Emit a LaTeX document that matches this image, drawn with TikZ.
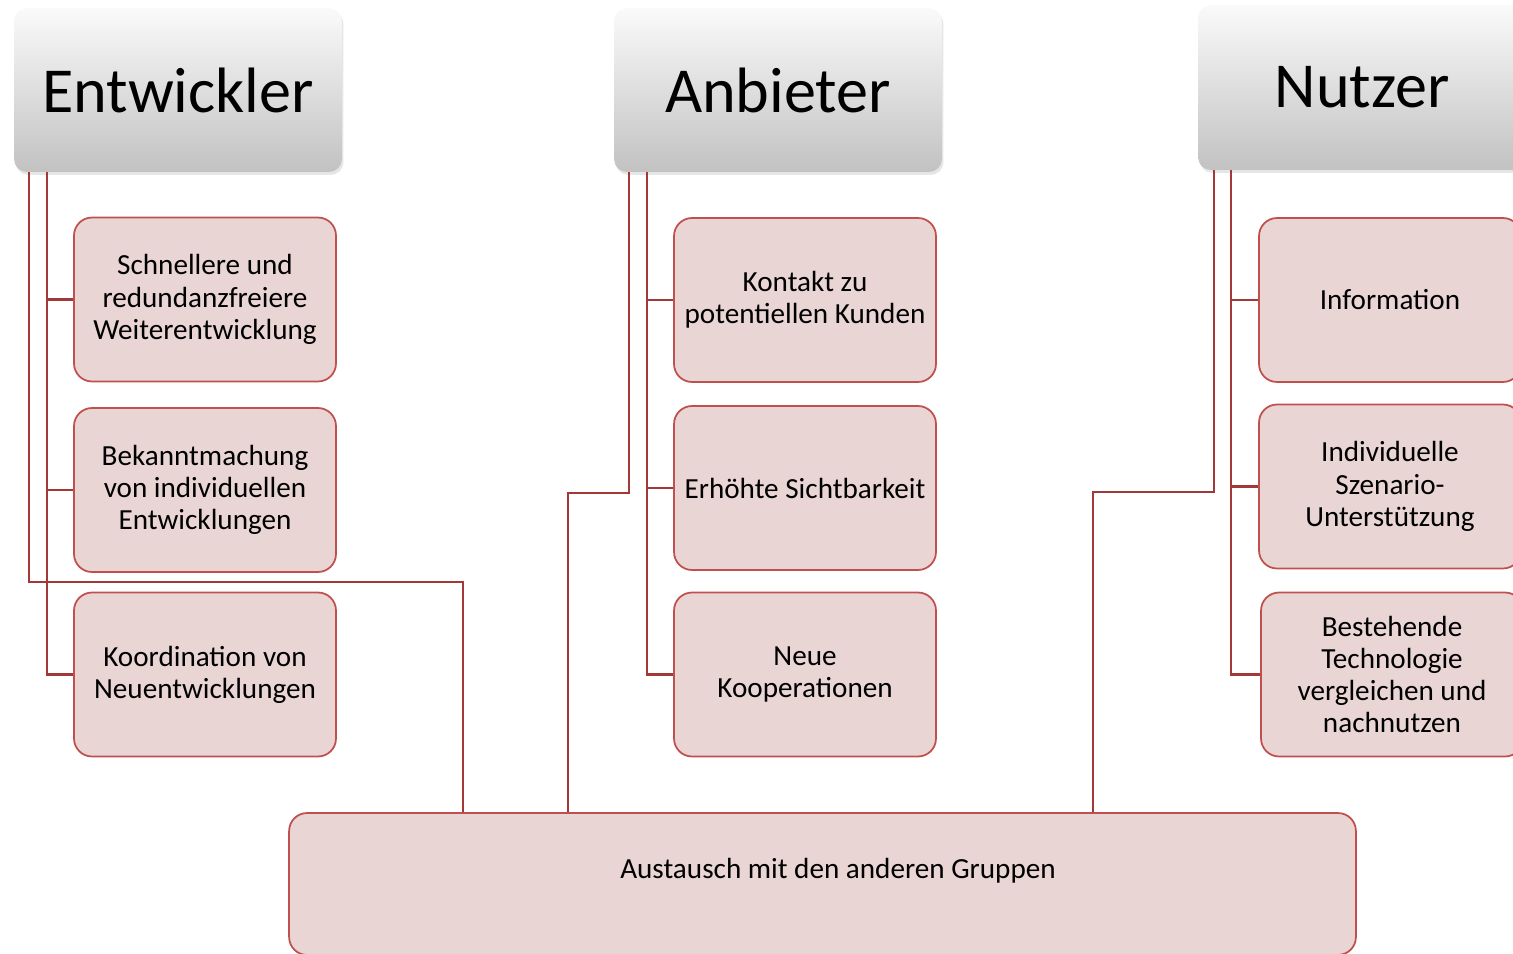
\documentclass[tikz,border=0pt]{standalone}
\usepackage{fontspec}
\setmainfont{Carlito}
\usepackage{tikz}
\usetikzlibrary{
    shapes.geometric,
    shadows,
    positioning,
    calc
}
\definecolor{boxfill}{RGB}{234,213,213}
\definecolor{boxline}{RGB}{192,80,77}
\definecolor{linkred}{RGB}{163,56,56}
\definecolor{headtop}{RGB}{250,250,250}
\definecolor{headbottom}{RGB}{194,194,194}
\tikzset{
    groupbox/.style = {
        rectangle,
        rounded corners=0.26cm,
        top color=headtop,
        bottom color=headbottom,
        draw=none,
        drop shadow={opacity=0.2, shadow xshift=0.03cm, shadow yshift=-0.06cm},
        minimum width=6.56cm,
        minimum height=3.28cm,
        font=\fontsize{36.5}{40}\selectfont,
        align=center
    },
    goalbox/.style = {
        rectangle,
        rounded corners=0.36cm,
        draw=boxline,
        line width=1pt,
        fill=boxfill,
        minimum width=5.24cm,
        minimum height=3.28cm,
        font=\fontsize{16.6}{18.3}\selectfont,
        align=center
    },
    connector/.style = {
        draw=linkred,
        line width=1.2pt
    }
}

\begin{document}
\begin{tikzpicture}[x=0.02cm, y=-0.02cm]
\useasboundingbox (0,0) rectangle (1513,953);
\clip (0,0) rectangle (1513,953);

% Gruppen
\node (entwickler) [groupbox] at (178,90) {Entwickler};
\node (anbieter) [groupbox] at (778,90) {Anbieter};
\node (nutzer) [groupbox, minimum height=3.3cm] at (1362,87.5) {Nutzer};

% Entwickler
\node (ent1) [goalbox] at (205,299.5) {Schnellere und\\redundanzfreiere\\Weiterentwicklung};
\node (ent2) [goalbox] at (205,490) {Bekanntmachung\\von individuellen\\Entwicklungen};
\node (ent3) [goalbox] at (205,674.5) {Koordination von\\Neuentwicklungen};

% Anbieter
\node (anb1) [goalbox] at (805,300) {Kontakt zu\\potentiellen Kunden};
\node (anb2) [goalbox] at (805,488) {Erh\"ohte Sichtbarkeit};
\node (anb3) [goalbox] at (805,674.5) {Neue\\Kooperationen};

% Nutzer
\node (nut1) [goalbox] at (1390,300) {Information};
\node (nut2) [goalbox] at (1390,486.5) {Individuelle\\Szenario-\\Unterst\"utzung};
\node (nut3) [goalbox] at (1392,674.5) {Bestehende\\Technologie\\vergleichen und\\nachnutzen};

% gemeinsamer Austausch
\node (austausch) [goalbox, minimum width=21.34cm, minimum height=2.84cm] at (822.5,884) {};
\node (austauschtext) [font=\fontsize{16.6}{18.3}\selectfont] at (838,871) {Austausch mit den anderen Gruppen};

% Verbindungen zu den Zielen
\foreach \grp/\pre in {entwickler/ent, anbieter/anb, nutzer/nut}
    \foreach \i in {1,2,3}
        \draw[connector] ([xshift=0.66cm]\grp.south west) |- (\pre\i.west);

% Verbindungen zum Austausch
\draw[connector] ([xshift=0.3cm]entwickler.south west) -- ++(0,410) -| ([xshift=3.5cm]austausch.north west);
\draw[connector] ([xshift=0.3cm]anbieter.south west) -- ++(0,321) -| ([xshift=5.6cm]austausch.north west);
\draw[connector] ([xshift=0.32cm]nutzer.south west) -- ++(0,322) -| ([xshift=16.1cm]austausch.north west);
\end{tikzpicture}
\end{document}
